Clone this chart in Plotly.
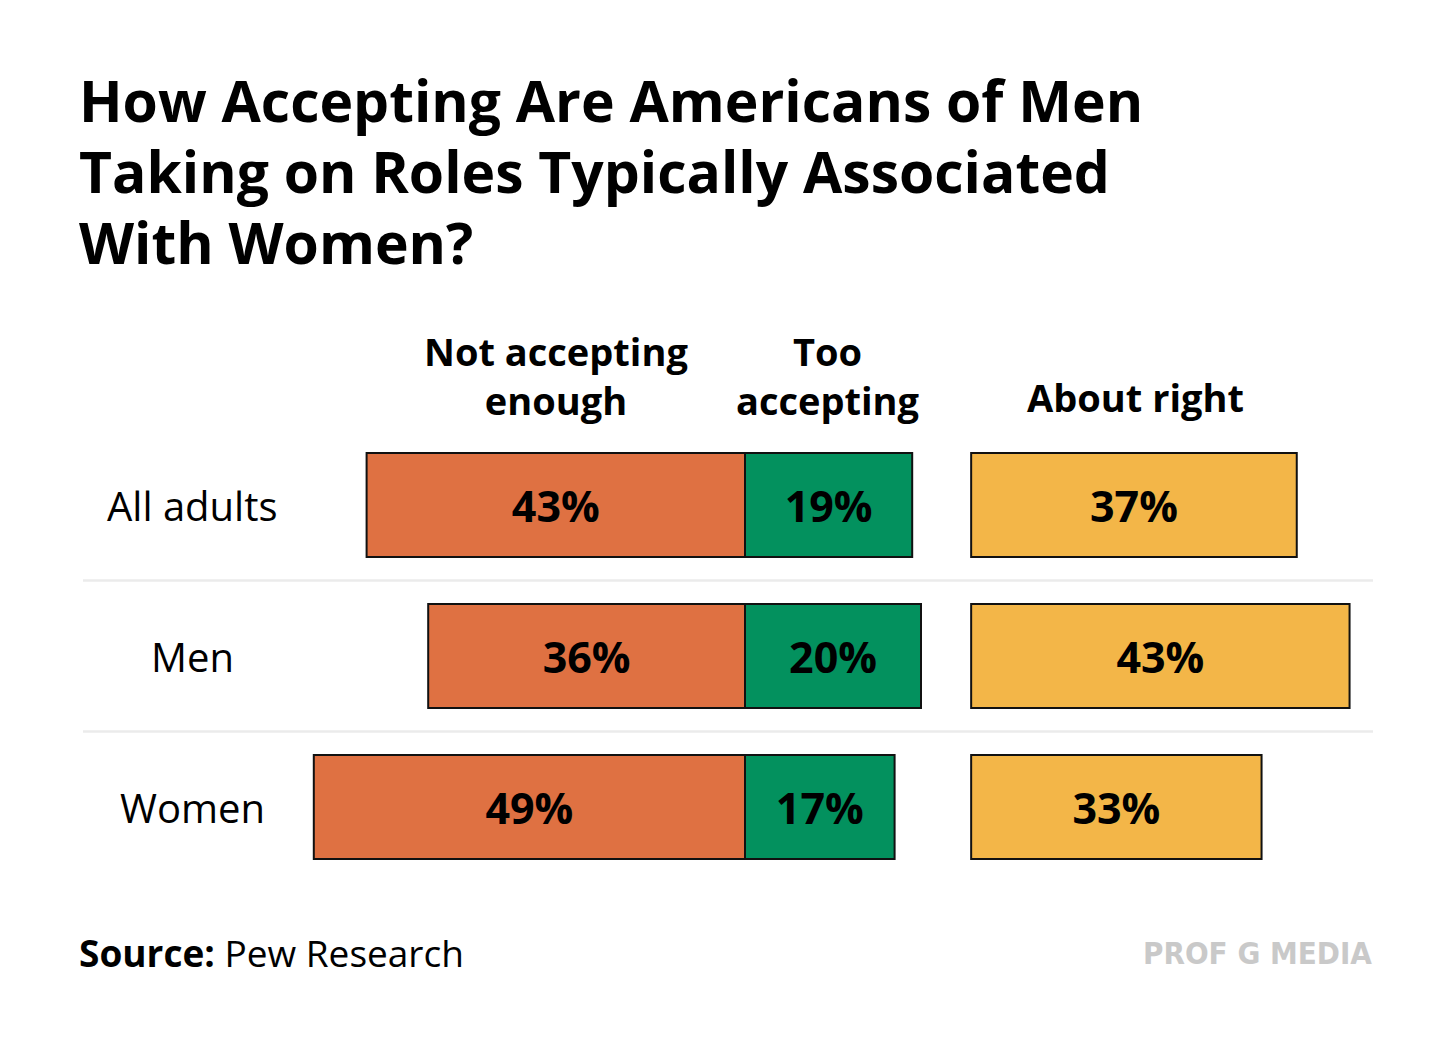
import plotly.graph_objects as go

groups = ["All adults", "Men", "Women"]
not_accepting = [43, 36, 49]
too_accepting = [19, 20, 17]
about_right = [37, 43, 33]
headers = ["Not accepting<br>enough", "Too<br>accepting", "About right"]
title_lines = ["How Accepting Are Americans of Men",
               "Taking on Roles Typically Associated",
               "With Women?"]

FONT = "Open Sans"
W, H = 1440, 1028   # page adds an 8px body margin
about_base = 25.7  # gap between the diverging bars and the "about right" column


def px(xs):
    return (xs - 8) / W


def py(ys):
    return 1 - (ys - 8) / H


def pct(vals):
    return [f"{v}%" for v in vals]


fig = go.Figure()

bar_style = dict(orientation="h", width=0.69, textposition="inside",
                 insidetextanchor="middle",
                 textfont=dict(family=FONT, size=43, color="black", weight="bold"),
                 marker_line=dict(color="#111111", width=2))

fig.add_trace(go.Bar(y=groups, x=not_accepting, base=[-v for v in not_accepting],
                     text=pct(not_accepting), marker_color="#DF7142", **bar_style))
fig.add_trace(go.Bar(y=groups, x=too_accepting, base=0,
                     text=pct(too_accepting), marker_color="#03915E", **bar_style))
fig.add_trace(go.Bar(y=groups, x=about_right, base=about_base,
                     text=pct(about_right), marker_color="#F3B648", **bar_style))

fig.update_layout(
    width=W, height=H, autosize=False,
    margin=dict(l=0, r=0, t=0, b=0),
    paper_bgcolor="white", plot_bgcolor="white",
    showlegend=False, barmode="overlay",
    uniformtext=dict(mode=False),
    xaxis=dict(range=[-737 / 8.8, (W - 737) / 8.8], visible=False, fixedrange=True),
    yaxis=dict(range=[(H - 497) / 151, -497 / 151], visible=False, fixedrange=True),
)

# separators between rows
for yy in [0.5, 1.5]:
    fig.add_shape(type="line", xref="paper", yref="y", x0=px(83), x1=px(1373),
                  y0=yy, y1=yy, line=dict(color="#EBEBEB", width=2.5), layer="below")

# row labels
for g in groups:
    fig.add_annotation(text=g, xref="paper", yref="y", x=px(192), y=g,
                       showarrow=False, xanchor="center",
                       font=dict(family=FONT, size=40, color="black"))

# column headers
for txt, xs, ys in zip(headers, [556, 828, 1135], [375, 375, 397]):
    fig.add_annotation(text=txt, xref="paper", yref="paper", x=px(xs), y=py(ys),
                       showarrow=False, xanchor="center", yanchor="middle",
                       font=dict(family=FONT, size=38, color="black", weight="bold"))

# title, one line at a time
for line, ys in zip(title_lines, [100, 171, 242]):
    fig.add_annotation(text=line, xref="paper", yref="paper", x=px(77), y=py(ys),
                       xanchor="left", yanchor="middle", showarrow=False,
                       font=dict(family=FONT, size=57, color="black", weight="bold"))

# footer
fig.add_annotation(text="<b>Source:</b> Pew Research", xref="paper", yref="paper",
                   x=px(77), y=py(952), xanchor="left", yanchor="middle",
                   showarrow=False, font=dict(family=FONT, size=37, color="black"))
fig.add_annotation(text="PROF G MEDIA", xref="paper", yref="paper",
                   x=px(1374), y=py(953), xanchor="right", yanchor="middle",
                   showarrow=False,
                   font=dict(family="DejaVu Sans Condensed, sans-serif",
                             size=31, color="#C9C9C9", weight="bold"))

fig.write_html("out.html")
